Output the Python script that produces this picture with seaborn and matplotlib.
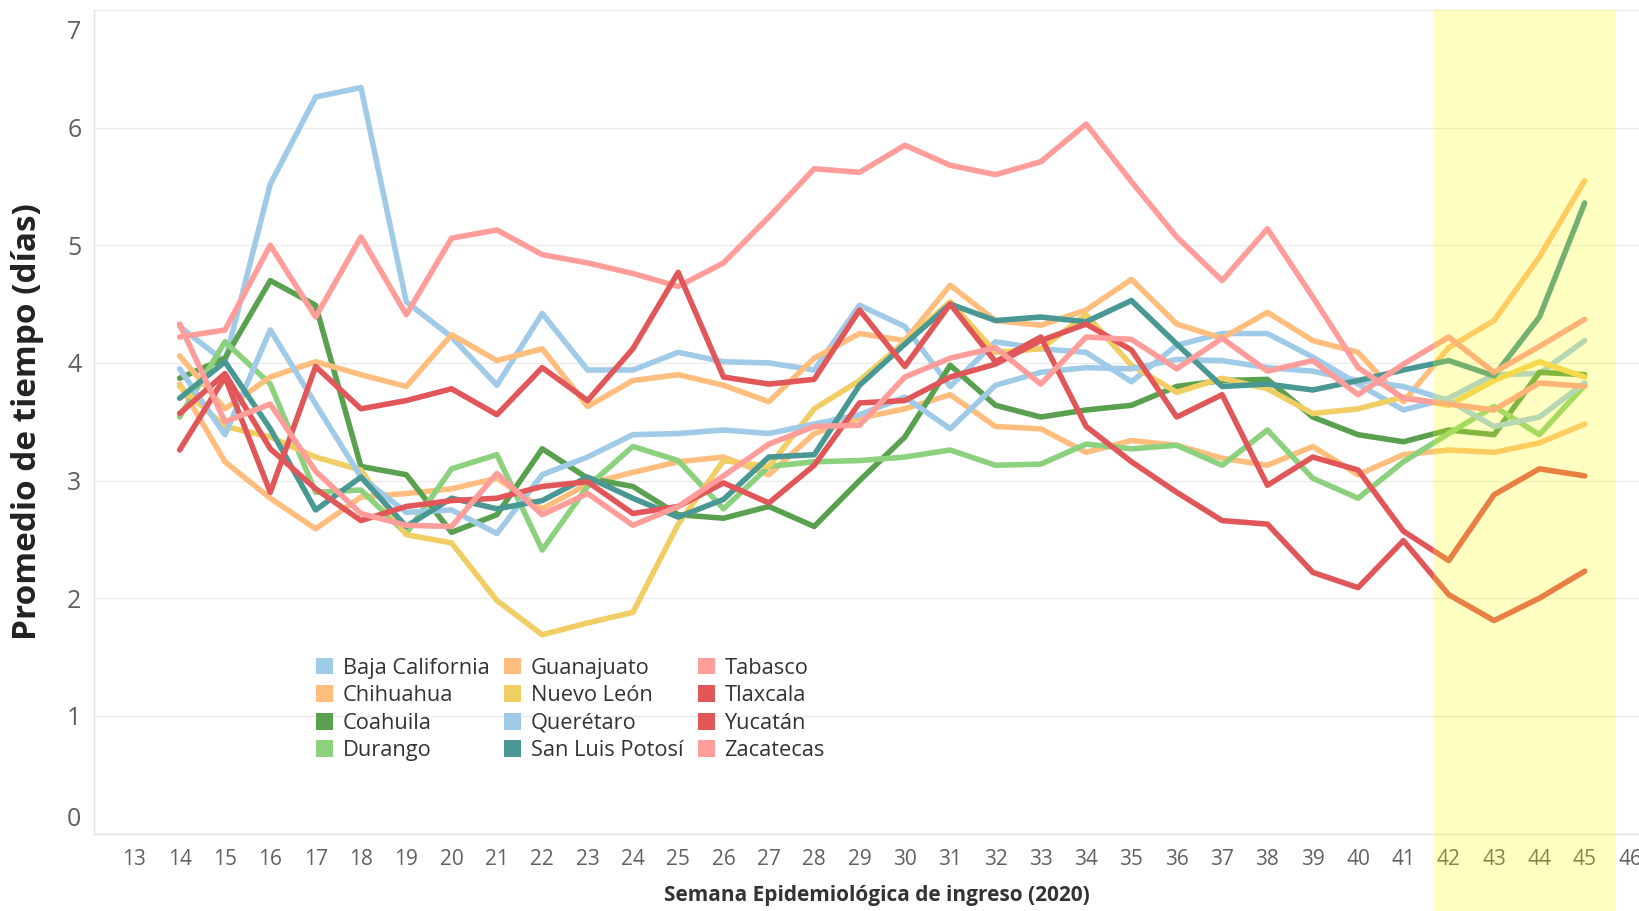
import pandas as pd
import matplotlib
matplotlib.use("Agg")
import matplotlib.pyplot as plt
import matplotlib.transforms as mtransforms
from matplotlib.patches import Patch, Rectangle
import seaborn as sns

# Semanas epidemiológicas y promedio de días por estado
semanas = list(range(14, 46))

baja_california = [4.31, 4.01, 5.52, 6.26, 6.34, 4.52, 4.22, 3.81, 4.42, 3.94, 3.94, 4.09, 4.01, 4.00, 3.94, 4.49,
                   4.31, 3.80, 4.18, 4.12, 4.09, 3.84, 4.15, 4.25, 4.25, 4.05, 3.82, 3.60, 3.70, 3.90, 3.91, 4.19]
chihuahua = [3.82, 3.16, 2.85, 2.59, 2.86, 2.89, 2.93, 3.02, 2.76, 2.97, 3.07, 3.16, 3.20, 3.05, 3.40, 3.53,
             3.61, 3.73, 3.46, 3.44, 3.24, 3.34, 3.30, 3.19, 3.13, 3.29, 3.05, 3.22, 3.26, 3.24, 3.32, 3.48]
coahuila = [3.87, 4.04, 4.70, 4.49, 3.12, 3.05, 2.56, 2.71, 3.27, 3.02, 2.95, 2.71, 2.68, 2.78, 2.61, 3.00,
            3.37, 3.98, 3.64, 3.54, 3.60, 3.64, 3.80, 3.85, 3.86, 3.54, 3.39, 3.33, 3.43, 3.39, 3.92, 3.90]
durango = [3.54, 4.18, 3.82, 2.90, 2.92, 2.55, 3.10, 3.22, 2.41, 2.95, 3.29, 3.17, 2.76, 3.12, 3.16, 3.17,
           3.20, 3.26, 3.13, 3.14, 3.31, 3.27, 3.30, 3.13, 3.43, 3.02, 2.85, 3.16, 3.40, 3.63, 3.39, 3.81]
guanajuato = [4.06, 3.61, 3.88, 4.01, 3.90, 3.80, 4.24, 4.02, 4.12, 3.63, 3.85, 3.90, 3.81, 3.67, 4.04, 4.25,
              4.19, 4.66, 4.36, 4.32, 4.45, 4.71, 4.33, 4.21, 4.43, 4.19, 4.09, 3.67, 4.13, 4.36, 4.90, 5.55]
nuevo_leon = [3.80, 3.46, 3.37, 3.20, 3.09, 2.54, 2.47, 1.98, 1.69, 1.79, 1.88, 2.63, 3.17, 3.12, 3.61, 3.85,
              4.18, 4.52, 4.09, 4.12, 4.41, 3.98, 3.75, 3.87, 3.78, 3.57, 3.61, 3.71, 3.64, 3.85, 4.01, 3.88]
queretaro = [3.95, 3.39, 4.28, 3.65, 3.03, 2.73, 2.75, 2.55, 3.05, 3.20, 3.39, 3.40, 3.43, 3.40, 3.48, 3.56,
             3.71, 3.44, 3.81, 3.92, 3.96, 3.95, 4.03, 4.02, 3.96, 3.93, 3.85, 3.80, 3.68, 3.46, 3.54, 3.83]
san_luis_potosi = [3.70, 4.01, 3.44, 2.75, 3.03, 2.61, 2.85, 2.76, 2.83, 3.03, 2.85, 2.69, 2.84, 3.20, 3.22, 3.81,
                   4.16, 4.50, 4.36, 4.39, 4.35, 4.53, 4.16, 3.80, 3.82, 3.77, 3.85, 3.94, 4.02, 3.89, 4.39, 5.36]
tabasco = [4.22, 4.28, 5.00, 4.39, 5.07, 4.41, 5.06, 5.13, 4.92, 4.85, 4.76, 4.65, 4.85, 5.24, 5.65, 5.62,
           5.85, 5.68, 5.60, 5.71, 6.03, 5.54, 5.07, 4.70, 5.14, 4.56, 3.96, 3.70, 3.65, 3.60, 3.83, 3.80]
tlaxcala = [3.26, 3.88, 2.90, 3.97, 3.61, 3.68, 3.78, 3.56, 3.96, 3.68, 4.12, 4.77, 3.88, 3.82, 3.86, 4.45,
            3.97, 4.50, 4.01, 4.22, 3.46, 3.16, 2.90, 2.66, 2.63, 2.22, 2.09, 2.49, 2.03, 1.81, 2.00, 2.23]
yucatan = [3.57, 3.91, 3.27, 2.93, 2.66, 2.78, 2.83, 2.85, 2.95, 2.99, 2.72, 2.78, 2.98, 2.81, 3.13, 3.66,
           3.68, 3.88, 3.99, 4.19, 4.33, 4.11, 3.54, 3.73, 2.96, 3.20, 3.09, 2.57, 2.32, 2.88, 3.10, 3.04]
zacatecas = [4.33, 3.50, 3.65, 3.08, 2.72, 2.62, 2.61, 3.06, 2.71, 2.89, 2.62, 2.78, 3.04, 3.31, 3.46, 3.47,
             3.88, 4.04, 4.13, 3.82, 4.22, 4.20, 3.95, 4.21, 3.93, 4.02, 3.73, 3.99, 4.22, 3.92, 4.14, 4.37]

estados = ["Baja California", "Chihuahua", "Coahuila", "Durango",
           "Guanajuato", "Nuevo León", "Querétaro", "San Luis Potosí",
           "Tabasco", "Tlaxcala", "Yucatán", "Zacatecas"]
valores = [baja_california, chihuahua, coahuila, durango,
           guanajuato, nuevo_leon, queretaro, san_luis_potosi,
           tabasco, tlaxcala, yucatan, zacatecas]
colores = ["#A0CBE8", "#FFBE7D", "#59A14F", "#8CD17D",
           "#FFBE7D", "#F1CE63", "#A0CBE8", "#499894",
           "#FF9D9A", "#E15759", "#E15759", "#FF9D9A"]
paleta = dict(zip(estados, colores))

# semanas resaltadas (datos preliminares)
banda_inicio, banda_fin = 41.65, 45.68

rows = []
for estado, vals in zip(estados, valores):
    for s, v in zip(semanas, vals):
        rows.append({"semana": s, "valor": v, "estado": estado})
df = pd.DataFrame(rows)

sns.set_style("white")
plt.rcParams["font.family"] = ["Open Sans", "DejaVu Sans"]
plt.rcParams["lines.solid_capstyle"] = "round"

fig = plt.figure(figsize=(16.4, 9.11), dpi=100)
ax = fig.add_axes([0.0573, 0.085, 0.9427, 0.9041])

sns.lineplot(data=df, x="semana", y="valor", hue="estado", hue_order=estados,
             palette=paleta, linewidth=4.0, legend=False, estimator=None, ax=ax)

ax.set_xlim(12.11, 46.22)
ax.set_ylim(0, 7)
ax.set_xticks(range(13, 47))
ax.set_yticks(range(0, 8))
ax.set_xlabel("")
ax.set_ylabel("")
ax.grid(axis="y", color="#ebebeb", linewidth=1)
ax.grid(axis="x", visible=False)
ax.set_axisbelow(True)
for side in ["top", "right"]:
    ax.spines[side].set_visible(False)
for side in ["left", "bottom"]:
    ax.spines[side].set_color("#e4e4e4")
    ax.spines[side].set_linewidth(1)

ax.tick_params(axis="x", length=4, width=1, color="#e0e0e0", labelsize=15,
               labelcolor="#606060", pad=7)
ax.tick_params(axis="y", length=0, labelsize=18, labelcolor="#606060", pad=9)

# Tableau mete las etiquetas extremas dentro del área
yticks = ax.yaxis.get_major_ticks()
yticks[-1].label1.set_transform(yticks[-1].label1.get_transform()
                                + mtransforms.ScaledTranslation(0, -0.2, fig.dpi_scale_trans))
yticks[0].label1.set_transform(yticks[0].label1.get_transform()
                               + mtransforms.ScaledTranslation(0, 0.17, fig.dpi_scale_trans))

# banda amarilla sobre las últimas semanas
banda = Rectangle((banda_inicio, -0.12), banda_fin - banda_inicio, 1.12,
                  transform=ax.get_xaxis_transform(), facecolor=(1, 1, 0), alpha=0.24,
                  edgecolor="none", zorder=10, clip_on=False)
ax.add_patch(banda)

handles = [Patch(facecolor=paleta[e], edgecolor="none", label=e) for e in estados]
leg = ax.legend(handles=handles, ncol=3, loc="upper left", bbox_to_anchor=(0.1436, 0.2135),
                frameon=False, fontsize=15.7, handlelength=0.8, handleheight=0.8,
                handletextpad=0.42, columnspacing=0.67, labelspacing=0.3,
                borderpad=0, borderaxespad=0)
for t in leg.get_texts():
    t.set_color("#333333")

fig.text(28 / 1640, 1 - 422 / 911, "Promedio de tiempo (días)", rotation=90,
         ha="center", va="center", fontsize=24, fontweight="bold", color="#222222")
fig.text(877 / 1640, 1 - 895 / 911, "Semana Epidemiológica de ingreso (2020)",
         ha="center", va="center", fontsize=15, fontweight="bold", color="#333333")

fig.savefig("out.png", dpi=100)
